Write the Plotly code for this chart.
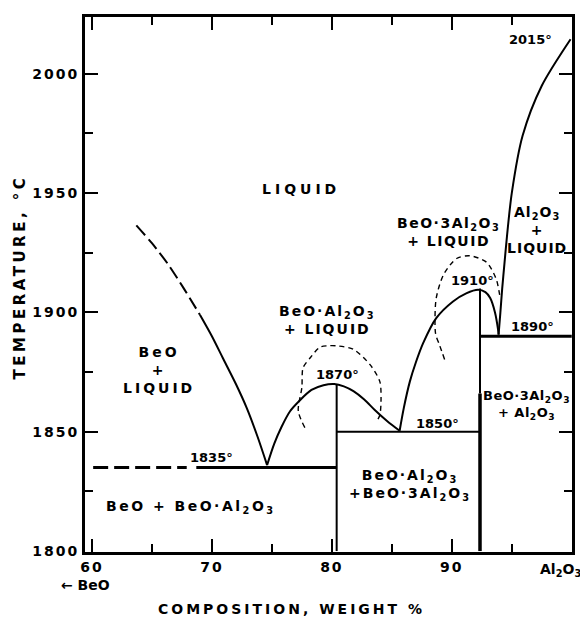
import plotly.graph_objects as go

# ---------------- data ----------------
x_tickvals = [60, 70, 80, 90, 100]
x_ticktext = ["60", "70", "80", "90", "Al<sub>2</sub>O<sub>3</sub>"]
y_tickvals = [1800, 1850, 1900, 1950, 2000]
y_ticktext = ["1800", "1850", "1900", "1950", "2000"]

# BeO liquidus (dashed = extrapolated, solid = measured)
beo_liq_dash_x = [63.7, 65.0, 66.3, 67.6, 69.0]
beo_liq_dash_t = [1936.5, 1929, 1920.5, 1910.5, 1899]
beo_liq_x = [69.0, 70.0, 70.9, 72.0, 72.9, 73.8, 74.6]
beo_liq_t = [1899, 1890, 1881, 1870, 1860, 1848, 1836]

# BeO.Al2O3 liquidus
ba_liq_x = [74.6, 75.2, 75.8, 76.5, 77.3, 78.3, 79.3, 80.2, 81.0, 81.8, 82.7, 83.6, 84.6, 85.65]
ba_liq_t = [1836, 1845, 1852, 1858.5, 1863, 1867.5, 1869.5, 1870, 1869, 1867, 1863.5, 1859, 1854.5, 1850.4]
# BeO.Al2O3 dashed dome
ba_dome_x = [77.75, 77.2, 77.5, 77.6, 78.2, 79.0, 79.6, 80.4, 81.8, 83.2, 84.0, 84.1, 84.0, 83.7]
ba_dome_t = [1851.7, 1858.7, 1868.5, 1876.8, 1881, 1885.4, 1886, 1886, 1884.5, 1878, 1871, 1864, 1857, 1854]

# BeO.3Al2O3 liquidus
b3a_liq_x = [85.65, 86.0, 86.5, 87.0, 87.6, 88.7, 90.1, 91.2, 92.2, 92.8, 93.2, 93.6, 93.85, 93.9]
b3a_liq_t = [1850.4, 1860, 1871, 1879, 1887, 1897.6, 1904.6, 1908, 1909.5, 1908.5, 1906, 1900, 1893, 1890.7]
# BeO.3Al2O3 dashed dome
b3a_dome_x = [89.4, 89.0, 88.65, 88.6, 88.7, 89.3, 90.4, 91.5, 92.9, 93.7, 94.0]
b3a_dome_t = [1880.3, 1886, 1891, 1897.6, 1906, 1915.7, 1922.6, 1923.75, 1921, 1914, 1907]

# Al2O3 liquidus
al_liq_x = [93.9, 94.05, 94.2, 94.38, 94.6, 95.0, 95.9, 97.5, 99.9]
al_liq_t = [1890.7, 1900, 1910, 1920, 1932, 1950, 1974, 1995, 2014.5]

# invariant temperatures and compound compositions
t_eut1, t_cong1, t_eut2, t_cong2, t_eut3, t_mp = 1835, 1870, 1850, 1910, 1890, 2015
x_ba, x_b3a = 80.4, 92.35
eut1_dash_x = [60.1, 67.9]
eut1_solid_x = [68.7, x_ba]
b3a_thin_from = 1866

# ---------------- figure ----------------
FONT = "DejaVu Sans"
fig = go.Figure()


def line(x, y, width=2, dash="solid", shape="linear"):
    fig.add_trace(go.Scatter(x=x, y=y, mode="lines", hoverinfo="skip",
                             line=dict(color="black", width=width, dash=dash,
                                       shape=shape, smoothing=0.8),
                             showlegend=False))


line(beo_liq_dash_x, beo_liq_dash_t, 2, "13px,5px", "spline")
line(beo_liq_x, beo_liq_t, 2, shape="spline")
line(ba_liq_x, ba_liq_t, 2, shape="spline")
line(ba_dome_x, ba_dome_t, 1.4, "5px,4px", "spline")
line(b3a_liq_x, b3a_liq_t, 2, shape="spline")
line(b3a_dome_x, b3a_dome_t, 1.4, "5px,4px", "spline")
line(al_liq_x, al_liq_t, 2, shape="spline")

line(eut1_dash_x, [t_eut1, t_eut1], 3, "15px,6px")
line(eut1_solid_x, [t_eut1, t_eut1], 3)
line([x_ba, x_ba], [1800, t_cong1], 2)
line([x_ba, x_b3a], [t_eut2, t_eut2], 2)
line([x_b3a, x_b3a], [b3a_thin_from, t_cong2], 2)
line([x_b3a, x_b3a], [1800, b3a_thin_from], 3.5)
line([x_b3a, 100], [t_eut3, t_eut3], 3)


def sp(text, ls):
    return "<br>".join(f"<span style='letter-spacing:{ls}px'>{t}</span>" for t in text.split("<br>"))


AL = "Al<sub>2</sub>O<sub>3</sub>"
# text, x, T, letter spacing, size
labels = [
    ("LIQUID", 77.4, 1951.7, 4, 14),
    ("BeO<br>+<br>LIQUID", 65.6, 1876, 3, 14),
    (f"BeO·{AL}<br>+ LIQUID", 79.6, 1897, 2, 14),
    (f"BeO·3{AL}<br>+ LIQUID", 89.7, 1933.5, 1.5, 14),
    (f"{AL}<br>+<br>LIQUID", 97.1, 1934.5, 1, 14),
    (f"BeO + BeO·{AL}", 68.25, 1818.3, 2.5, 14),
    (f"BeO·{AL}<br>+BeO·3{AL}", 86.5, 1827.5, 2, 14),
    (f"BeO·3{AL}<br>+ {AL}", 96.2, 1861, 0.5, 13),
]
for txt, x, y, ls, sz in labels:
    fig.add_annotation(x=x, y=y, text=sp(txt, ls), showarrow=False,
                       xanchor="center", yanchor="middle",
                       font=dict(family=FONT, size=sz, color="black", weight="bold"))

temps = [
    (f"{t_eut1}°", 70.0, 1839),
    (f"{t_cong1}°", 80.5, 1874),
    (f"{t_eut2}°", 88.8, 1853.5),
    (f"{t_cong2}°", 91.7, 1913.3),
    (f"{t_eut3}°", 96.7, 1894),
    (f"{t_mp}°", 96.6, 2014.5),
]
for txt, x, y in temps:
    fig.add_annotation(x=x, y=y, text=txt, showarrow=False,
                       xanchor="center", yanchor="middle",
                       font=dict(family=FONT, size=13, color="black", weight="bold"))

TICKFONT = dict(family=FONT, size=14, color="black", weight="bold")
# the last tick label (Al2O3 end member) is placed so it stays inside the page
fig.add_annotation(x=x_tickvals[-1], xref="x", yref="paper", y=0, xshift=11, yshift=-18,
                   xanchor="right", yanchor="middle", showarrow=False,
                   text=x_ticktext[-1], font=TICKFONT)

# axis titles & BeO end label
fig.add_annotation(xref="paper", yref="paper", x=0.002, y=0, yshift=-33,
                   xanchor="center", yanchor="middle",
                   text="← BeO", showarrow=False,
                   font=dict(family=FONT, size=14, color="black", weight="bold"))
fig.add_annotation(xref="paper", yref="paper", x=0.425, y=0, yshift=-57,
                   xanchor="center", yanchor="middle",
                   text=sp("COMPOSITION, WEIGHT %", 3), showarrow=False,
                   font=dict(family=FONT, size=14, color="black", weight="bold"))
fig.add_annotation(xref="paper", yref="paper", x=-0.1335, y=0.515, textangle=-90,
                   xanchor="center", yanchor="middle",
                   text=sp("TEMPERATURE, °C", 3.5), showarrow=False,
                   font=dict(family=FONT, size=15, color="black", weight="bold"))

axis_common = dict(showline=True, linewidth=3, linecolor="black", mirror="ticks",
                   ticks="inside", ticklen=13, tickwidth=2, tickcolor="black",
                   showgrid=False, zeroline=False, tickfont=TICKFONT)

fig.update_xaxes(range=[59.42, 100.02], tickmode="array", tickvals=x_tickvals,
                 ticktext=[sp(t, 2) for t in x_ticktext[:-1]] + [""],
                 minor=dict(dtick=5, tick0=60, ticks="inside", ticklen=8, tickwidth=2, tickcolor="black"),
                 **axis_common)
fig.update_yaxes(range=[1799.6, 2023.8], tickmode="array", tickvals=y_tickvals,
                 ticktext=[sp(t, 2) for t in y_ticktext],
                 minor=dict(dtick=25, tick0=1800, ticks="inside", ticklen=8, tickwidth=2, tickcolor="black"),
                 **axis_common)

# the page body adds an 8px margin, so the figure is 8px smaller than the window
fig.update_layout(width=580, height=612, margin=dict(l=77, r=16, t=6, b=68),
                  plot_bgcolor="white", paper_bgcolor="white", showlegend=False)

fig.write_html("out.html")
